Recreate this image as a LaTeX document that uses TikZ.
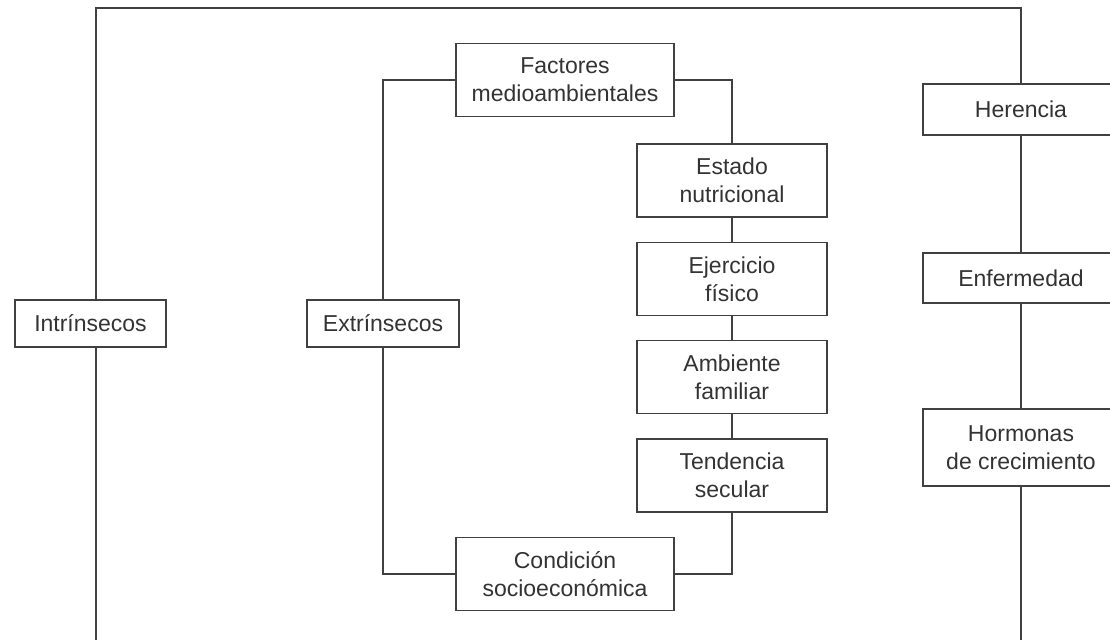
\documentclass[tikz,border=0pt]{standalone}
\usepackage{fontspec}
\setmainfont{Liberation Sans}
\usetikzlibrary{positioning,calc}
\definecolor{linegray}{gray}{0.25}
\definecolor{textgray}{gray}{0.2}

\begin{document}
\begin{tikzpicture}[% styles for the whole picture, 1 unit = 1 pixel of the page
		x=0.5pt,y=-0.5pt,
		every node/.style={
			align=center,	% so that "\\" breaks the line
			font=\fontsize{11.5}{14}\selectfont,
			text=textgray
		},
		box/.style={rectangle,draw=linegray,line width=0.7pt,fill=white,inner sep=0pt},
		conn/.style={draw=linegray,line width=0.9pt},
		node distance=12pt
	]
	\clip (0,0) rectangle (1110,640);
	% corners of the outer frame
	\coordinate (TL) at (96,8);
	\coordinate (TR) at (1021,8);
	\coordinate (BL) at (96,640);
	\coordinate (BR) at (1021,640);
	% left branch
	\node[box,minimum width=75.5pt,minimum height=23.5pt](Intr) at (90.5,323.5){Intrínsecos};
	% middle branch
	\node[box,minimum width=76pt,minimum height=23.5pt](Extr) at (383,323.5){Extrínsecos};
	\node[box,minimum width=109pt,minimum height=36.5pt](Fact) at (565,80){Factores\\ medioambientales};
	\node[box,minimum width=95pt,minimum height=36.5pt](Estado) at (732,180.5){Estado\\ nutricional};
	\node[box,minimum width=95pt,minimum height=36.5pt](Ejer)[below= of Estado]{Ejercicio\\ físico};
	\node[box,minimum width=95pt,minimum height=36.5pt](Amb)[below= of Ejer]{Ambiente\\ familiar};
	\node[box,minimum width=95pt,minimum height=36.5pt](Tend)[below= of Amb]{Tendencia\\ secular};
	\node[box,minimum width=109pt,minimum height=36.5pt](Cond) at (565,574){Condición\\ socioeconómica};
	% right branch
	\node[box,minimum width=98pt,minimum height=25.5pt](Her) at (1021,109.5){Herencia};
	\node[box,minimum width=98pt,minimum height=25pt](Enf) at (1021,278){Enfermedad};
	\node[box,minimum width=98pt,minimum height=38.5pt](Horm) at (1021,447.5){Hormonas\\ de crecimiento};

	\draw[conn] (Intr.north -| TL) -- (TL) -- (TR) -- (Her.north);
	\draw[conn] (Intr.south -| BL) -- (BL);
	\draw[conn] (Extr.north) |- (Fact.west);
	\draw[conn] (Extr.south) |- (Cond.west);
	\draw[conn] (Fact.east) -| (Estado.north);
	\draw[conn] (Tend.south) |- (Cond.east);
	\path[conn]
	(Estado) edge [conn] (Ejer)
	(Ejer) edge [conn] (Amb)
	(Amb) edge [conn] (Tend)
	(Her) edge [conn] (Enf)
	(Enf) edge [conn] (Horm)
	(Horm.south) edge [conn] (BR)
	;
\end{tikzpicture}
\end{document}
